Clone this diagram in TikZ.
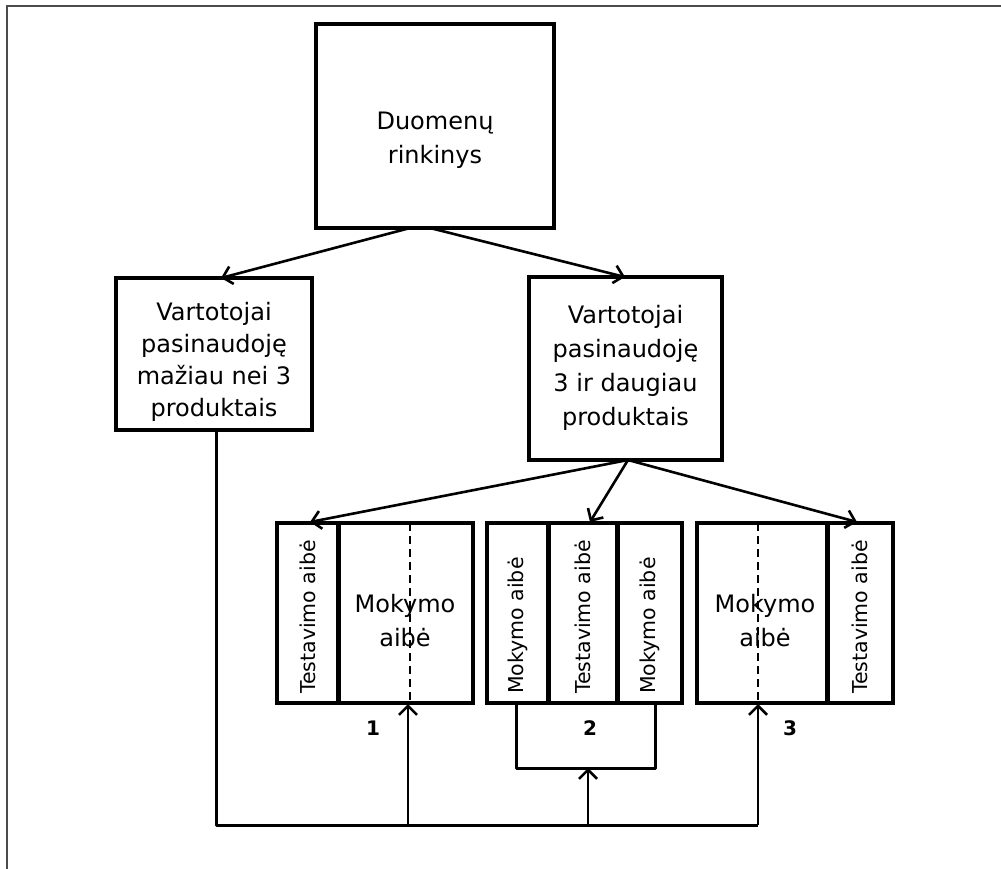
\documentclass[tikz,border=0pt]{standalone}
\usepackage{fontspec}
\setmainfont{DejaVu Sans}
\usetikzlibrary{arrows.meta,calc}
\begin{document}
\begin{tikzpicture}[x=1pt,y=-1pt,
  box/.style={draw, line width=3.6pt, inner sep=0pt},
  txt/.style={align=center, inner sep=0pt, font=\fontsize{24}{34}\selectfont},
  vtxt/.style={rotate=90, anchor=west, inner sep=0pt, font=\fontsize{20.5}{24}\selectfont},
  num/.style={inner sep=0pt, font=\fontsize{20}{22}\selectfont\bfseries},
  divider/.style={line width=5pt},
  split/.style={line width=1.6pt, dash pattern=on 8pt off 5pt},
  conn/.style={line width=2.6pt, -{Straight Barb[length=9pt,width=18pt,line width=2.6pt]}},
  wire/.style={line width=3pt, line join=round}
]
\useasboundingbox (0,0) rectangle (1001,869);
\fill[white] (0,0) rectangle (1001,869);
% page frame
\draw[black!70, line width=2.4pt] (7,869) -- (7,6) -- (1001,6);

% upper boxes
\node[box, minimum width=238pt, minimum height=204pt] (data) at (435,126) {};
\node[txt] (datat) at (435,140) {Duomenų\\rinkinys};
\node[box, minimum width=196pt, minimum height=152pt] (few) at (214,354) {};
\node[txt, font=\fontsize{24}{32}\selectfont] (fewt) at (214,362) {Vartotojai\\pasinaudoję\\mažiau nei 3\\produktais};
\node[box, minimum width=193pt, minimum height=183pt] (many) at (625.5,368.5) {};
\node[txt] (manyt) at (625.5,368) {Vartotojai\\pasinaudoję\\3 ir daugiau\\produktais};

% split variants
\node[box, minimum width=196pt, minimum height=180pt] (g1) at (375,613) {};
\node[box, minimum width=195pt, minimum height=180pt] (g2) at (584.5,613) {};
\node[box, minimum width=196pt, minimum height=180pt] (g3) at (795,613) {};
\draw[divider] (338,523) -- (338,703);
\draw[divider] (548,523) -- (548,703);
\draw[divider] (617,523) -- (617,703);
\draw[divider] (827,523) -- (827,703);
\draw[split] (410,523) -- (410,703);
\draw[split] (758,523) -- (758,703);

\node[vtxt] (t1) at (307.5,694) {Testavimo aibė};
\node[txt] (m1) at (405,621) {Mokymo\\aibė};
\node[vtxt] (m2a) at (517.5,694) {Mokymo aibė};
\node[vtxt] (t2) at (582.5,694) {Testavimo aibė};
\node[vtxt] (m2b) at (649.5,694) {Mokymo aibė};
\node[txt] (m3) at (765,621) {Mokymo\\aibė};
\node[vtxt] (t3) at (860,694) {Testavimo aibė};

\node[num] (n1) at (373,728) {1};
\node[num] (n2) at (590,728) {2};
\node[num] (n3) at (790,728) {3};

% arrows between boxes
\coordinate (dl) at (410,228);
\coordinate (dr) at (430,228);
\draw[conn] (dl) -- (221,278);
\draw[conn] (dr) -- (625,277);
\coordinate (ms) at (628,460);
\draw[conn] (ms) -- (310,522);
\draw[conn] (ms) -- (590,522);
\draw[conn] (ms) -- (857,522);

% feedback wiring from the left box
\coordinate (bl) at (216,825);
\coordinate (b1) at (408,825);
\coordinate (b2) at (588,825);
\coordinate (b3) at (758,825);
\draw[wire] (few.south -| bl) -- (bl) -- (b3);
\draw[wire] (516,703) -- (516,768) -- (655,768) -- (655,703);
\coordinate (a1) at (408,704);
\coordinate (a2) at (588,768);
\coordinate (a3) at (758,704);
\draw[conn] (b1) -- (a1);
\draw[conn] (b2) -- (a2);
\draw[conn] (b3) -- (a3);
\end{tikzpicture}
\end{document}
